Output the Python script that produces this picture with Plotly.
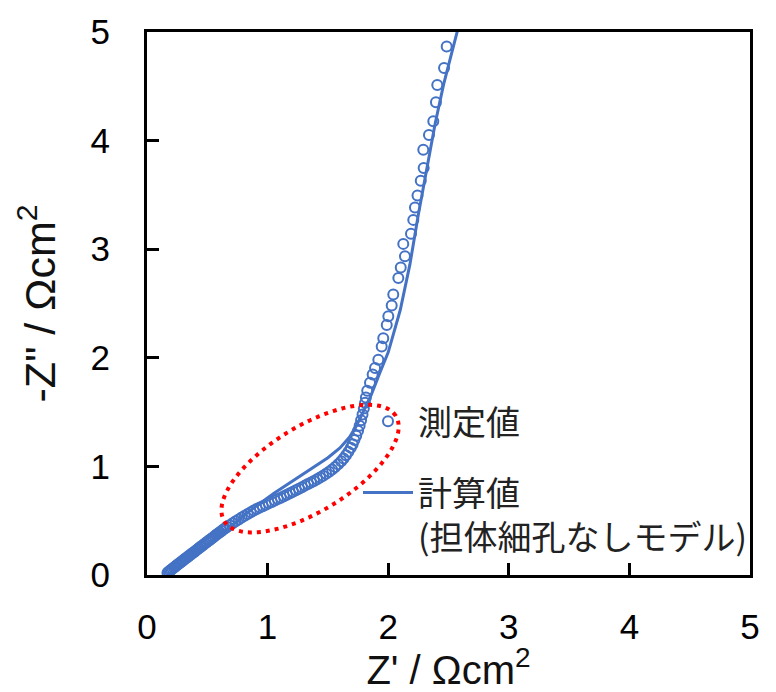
import numpy as np
import plotly.graph_objects as go

# Measured impedance spectrum (Nyquist): Z' and -Z'' in ohm*cm^2
meas_zre = [
    0.170, 0.180, 0.190, 0.200, 0.211, 0.222, 0.233, 0.244, 0.255, 0.266,
    0.277, 0.288, 0.299, 0.310, 0.322, 0.334, 0.346, 0.358, 0.370, 0.382,
    0.394, 0.406, 0.418, 0.430, 0.442, 0.455, 0.468, 0.481, 0.494, 0.507,
    0.520, 0.533, 0.547, 0.561, 0.575, 0.589, 0.603, 0.618, 0.633, 0.648,
    0.663, 0.685, 0.710, 0.735, 0.760, 0.785, 0.810, 0.835, 0.860, 0.885,
    0.910, 0.935, 0.960, 0.985, 1.010, 1.035, 1.060, 1.085, 1.110, 1.135,
    1.160, 1.185, 1.210, 1.235, 1.260, 1.285, 1.310, 1.335, 1.360, 1.385,
    1.410, 1.435, 1.460, 1.485, 1.510, 1.535, 1.560, 1.585, 1.610, 1.630,
    1.650, 1.670, 1.690, 1.705, 1.720, 1.735, 1.750, 1.763, 1.775, 1.787,
    1.798, 1.808, 1.815, 1.826, 1.849, 1.871, 1.891, 1.918, 1.946, 1.959,
    1.988, 2.001, 2.029, 2.042, 2.084, 2.104, 2.139, 2.125, 2.189, 2.208,
    2.222, 2.243, 2.270, 2.294, 2.291, 2.338, 2.374, 2.396, 2.407, 2.463,
    2.485,
]
meas_zim = [
    0.020, 0.030, 0.039, 0.048, 0.058, 0.068, 0.077, 0.087, 0.096, 0.106,
    0.115, 0.125, 0.134, 0.144, 0.154, 0.164, 0.174, 0.185, 0.195, 0.205,
    0.215, 0.226, 0.236, 0.246, 0.257, 0.268, 0.279, 0.290, 0.301, 0.312,
    0.323, 0.334, 0.346, 0.358, 0.370, 0.382, 0.393, 0.406, 0.418, 0.431,
    0.443, 0.458, 0.476, 0.494, 0.512, 0.530, 0.546, 0.562, 0.578, 0.593,
    0.607, 0.621, 0.634, 0.647, 0.660, 0.673, 0.686, 0.699, 0.712, 0.725,
    0.738, 0.752, 0.766, 0.780, 0.795, 0.809, 0.823, 0.837, 0.852, 0.866,
    0.881, 0.897, 0.914, 0.932, 0.951, 0.972, 0.995, 1.020, 1.048, 1.073,
    1.102, 1.135, 1.172, 1.205, 1.242, 1.283, 1.328, 1.375, 1.425, 1.478,
    1.532, 1.585, 1.635, 1.696, 1.771, 1.846, 1.907, 1.983, 2.104, 2.180,
    2.301, 2.382, 2.482, 2.582, 2.734, 2.831, 2.936, 3.049, 3.143, 3.270,
    3.385, 3.494, 3.630, 3.747, 3.915, 4.051, 4.178, 4.353, 4.511, 4.668,
    4.866,
]

# Calculated spectrum, model without support pores
calc_zre = [0.17, 0.30, 0.45, 0.60, 0.75, 0.90, 1.05, 1.20, 1.35, 1.50,
            1.60, 1.68, 1.74, 1.80, 1.86, 1.93, 2.00, 2.10, 2.18, 2.25,
            2.32, 2.39, 2.46, 2.52, 2.59]
calc_zim = [0.00, 0.11, 0.24, 0.37, 0.50, 0.63, 0.75, 0.86, 0.97, 1.08,
            1.17, 1.27, 1.38, 1.52, 1.66, 1.86, 2.05, 2.44, 2.86, 3.32,
            3.74, 4.16, 4.52, 4.78, 5.08]

x_ticks = [0, 1, 2, 3, 4, 5]
y_ticks = [0, 1, 2, 3, 4, 5]

meas_name = "測定値"
calc_name = "計算値<br>(担体細孔なしモデル)"

BLUE = "#4472C4"
W, H = 776, 692
M_L, M_R, M_T, M_B = 147, 26, 24, 117
AX_FONT = "Liberation Sans, Arial, sans-serif"
JP_FONT = "Noto Sans CJK JP, sans-serif"

fig = go.Figure()
fig.add_trace(go.Scatter(
    x=meas_zre, y=meas_zim, mode="markers", name=meas_name,
    legendgroup="meas",
    marker=dict(symbol="circle-open", size=10, color=BLUE,
                line=dict(width=2, color=BLUE)),
))
fig.add_trace(go.Scatter(
    x=calc_zre, y=calc_zim, mode="lines", name=calc_name,
    legendgroup="calc",
    line=dict(color=BLUE, width=3),
))

# Dotted ellipse highlighting the region where the model departs from data
px_per_x = (W - M_L - M_R) / (x_ticks[-1] - x_ticks[0])
px_per_y = (H - M_T - M_B) / (y_ticks[-1] - y_ticks[0])
ell_cx, ell_cy = 1.352, 0.98         # centre in data units
ell_a, ell_b, ell_deg = 101, 43, 32  # semi-axes in px, tilt in degrees
t = np.linspace(0, 2 * np.pi, 121)
th = np.deg2rad(ell_deg)
ex = ell_a * np.cos(t) * np.cos(th) - ell_b * np.sin(t) * np.sin(th)
ey = ell_a * np.cos(t) * np.sin(th) + ell_b * np.sin(t) * np.cos(th)
ell_x = ell_cx + ex / px_per_x
ell_y = ell_cy + ey / px_per_y
path = "M " + " L ".join(f"{a:.4f},{b:.4f}" for a, b in zip(ell_x, ell_y)) + " Z"
fig.add_shape(type="path", path=path, xref="x", yref="y",
              line=dict(color="#FF0000", width=4, dash="4px,5px"))

axis_common = dict(
    showline=True, linecolor="black", linewidth=3, mirror=True,
    ticks="inside", ticklen=12, tickwidth=3, tickcolor="black",
    showgrid=False, zeroline=False,
    tickfont=dict(family=AX_FONT, size=35, color="black"),
)
fig.update_xaxes(range=[0, 5], tickvals=x_ticks, ticklabelstandoff=19,
                 title=dict(text="Z' / Ωcm<sup>2</sup>", standoff=2,
                            font=dict(family=AX_FONT, size=40, color="#111")),
                 **axis_common)
fig.update_yaxes(range=[0, 5], tickvals=y_ticks, ticklabelstandoff=27,
                 title=dict(text="-Z\" / Ωcm<sup>2</sup>", standoff=22,
                            font=dict(family=AX_FONT, size=43, color="#111")),
                 **axis_common)

fig.update_layout(
    width=W, height=H,
    margin=dict(l=M_L, r=M_R, t=M_T, b=M_B),
    plot_bgcolor="white", paper_bgcolor="white",
    showlegend=True,
    legend=dict(
        x=(358 - M_L) / (W - M_L - M_R), y=(H - M_B - 390) / (H - M_T - M_B),
        xanchor="left", yanchor="top",
        bgcolor="rgba(0,0,0,0)", borderwidth=0,
        font=dict(family=JP_FONT, size=34, color="#222"),
        traceorder="grouped", tracegroupgap=24,
        itemwidth=50, valign="top",
    ),
)

fig.write_html("out.html")
